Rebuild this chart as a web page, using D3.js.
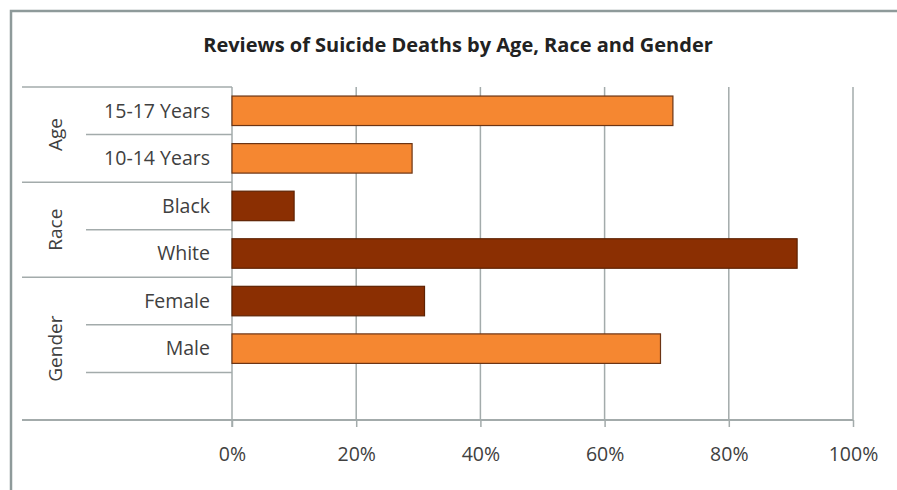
<!DOCTYPE html>
<html>
<head>
<meta charset="utf-8">
<script src="https://cdn.jsdelivr.net/npm/d3@7"></script>
<style>
  html, body { margin: 0; padding: 0; background: #fff; }
  svg { display: block; }
</style>
</head>
<body>
<svg id="chart" width="897" height="490"></svg>
<script>
// Chart data
const categories = ["15-17 Years", "10-14 Years", "Black", "White", "Female", "Male", ""];
const values = [71, 29, 10, 91, 31, 69, null];
const barTone = ["light", "light", "dark", "dark", "dark", "light", null];
const groups = ["Age", "Race", "Gender"];
const groupSpans = [[0, 1], [2, 3], [4, 6]];
const tickValues = [0, 20, 40, 60, 80, 100];
const titleText = "Reviews of Suicide Deaths by Age, Race and Gender";

const svg = d3.select("#chart");
const W = 897, H = 490;
const fontFam = "'Open Sans', 'Liberation Sans', sans-serif";
const gridColor = "#a3abab";
const frameColor = "#8e9a9a";

// Outer frame
svg.append("rect")
  .attr("x", 11).attr("y", 11)
  .attr("width", W + 20).attr("height", H + 20)
  .attr("fill", "#fff")
  .attr("stroke", frameColor).attr("stroke-width", 2.5);

const plotLeft = 232, plotRight = 853, plotTop = 87, plotBottom = 420;
const labelLeft = 22, subLeft = 86;

const x = d3.scaleLinear().domain([0, 100]).range([plotLeft, plotRight]);
const y = d3.scaleBand().domain(d3.range(categories.length))
  .range([plotTop, plotBottom]).paddingInner(0.38).paddingOuter(0.19);
const step = y.step();

// Title
svg.append("text")
  .attr("x", 458).attr("y", 52)
  .attr("text-anchor", "middle")
  .attr("font-family", fontFam)
  .attr("font-weight", "bold")
  .attr("font-size", 20)
  .attr("fill", "#222")
  .text(titleText);

// Vertical gridlines
svg.append("g").selectAll("line")
  .data(tickValues.slice(1))
  .join("line")
  .attr("x1", d => x(d)).attr("x2", d => x(d))
  .attr("y1", plotTop).attr("y2", plotBottom)
  .attr("stroke", gridColor).attr("stroke-width", 1.5);

// Bottom axis
const xAxis = d3.axisBottom(x)
  .tickValues(tickValues)
  .tickFormat(d => d + "%")
  .tickSize(7)
  .tickPadding(20);
const ax = svg.append("g")
  .attr("transform", `translate(0,${plotBottom})`)
  .call(xAxis);
ax.select(".domain").remove();
ax.selectAll(".tick line").attr("stroke", gridColor).attr("stroke-width", 1.5);
ax.selectAll(".tick text")
  .attr("font-family", fontFam).attr("font-size", 19.5)
  .attr("fill", "#404040");
svg.append("line")
  .attr("x1", labelLeft).attr("x2", plotRight)
  .attr("y1", plotBottom).attr("y2", plotBottom)
  .attr("stroke", gridColor).attr("stroke-width", 1.8);

// Category axis line
svg.append("line")
  .attr("x1", plotLeft).attr("x2", plotLeft)
  .attr("y1", plotTop).attr("y2", plotBottom + 7)
  .attr("stroke", gridColor).attr("stroke-width", 1.5);

// Category separators: short between items, long between groups
const boundaries = d3.range(categories.length);
const groupStarts = new Set(groupSpans.map(s => s[0]));
svg.append("g").selectAll("line")
  .data(boundaries)
  .join("line")
  .attr("x1", d => groupStarts.has(d) ? labelLeft : subLeft)
  .attr("x2", plotLeft)
  .attr("y1", d => plotTop + d * step).attr("y2", d => plotTop + d * step)
  .attr("stroke", gridColor).attr("stroke-width", 1.5);

// Category labels
svg.append("g").selectAll("text")
  .data(categories)
  .join("text")
  .attr("x", 210)
  .attr("y", (d, i) => y(i) + y.bandwidth() / 2)
  .attr("dy", "0.35em")
  .attr("text-anchor", "end")
  .attr("font-family", fontFam).attr("font-size", 19.5)
  .attr("fill", "#404040")
  .text(d => d);

// Group labels, rotated
svg.append("g").selectAll("text")
  .data(groups)
  .join("text")
  .attr("transform", (d, i) => {
    const s = groupSpans[i];
    const cy = plotTop + (s[0] + (s[1] - s[0] + 1) / 2) * step;
    return `translate(55,${cy}) rotate(-90)`;
  })
  .attr("dy", "0.35em")
  .attr("text-anchor", "middle")
  .attr("font-family", fontFam).attr("font-size", 19)
  .attr("fill", "#404040")
  .text(d => d);

// Bars
const fills = { light: "#f58731", dark: "#8b2f02" };
const strokes = { light: "#6b3414", dark: "#5e2202" };
svg.append("g").selectAll("rect")
  .data(values.map((v, i) => ({ v, i })).filter(d => d.v !== null))
  .join("rect")
  .attr("x", x(0))
  .attr("y", d => y(d.i))
  .attr("width", d => x(d.v) - x(0))
  .attr("height", y.bandwidth())
  .attr("fill", d => fills[barTone[d.i]])
  .attr("stroke", d => strokes[barTone[d.i]])
  .attr("stroke-width", 1.2);
</script>
</body>
</html>
